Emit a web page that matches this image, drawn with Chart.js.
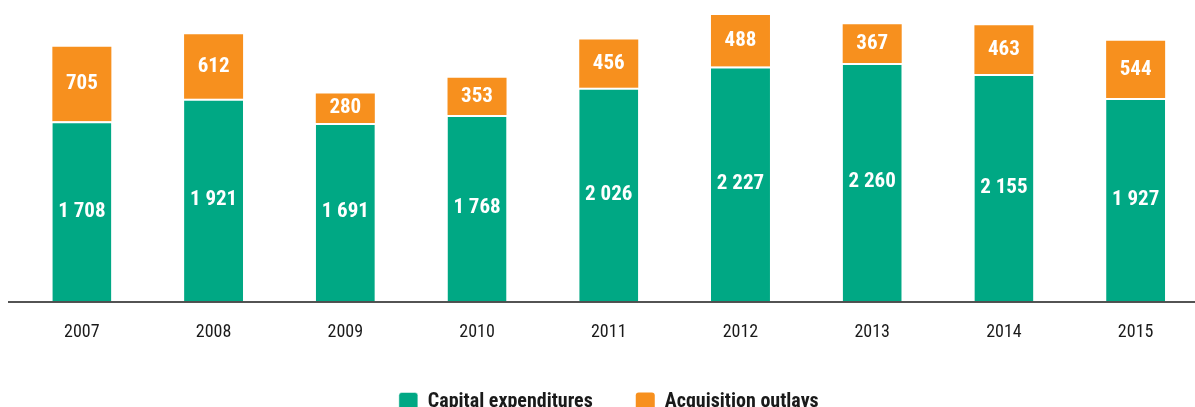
<!DOCTYPE html>
<html lang="en">
	<head>
		<meta charset="UTF-8" />
		<script src="https://cdn.jsdelivr.net/npm/chart.js@4"></script>
		<style>
			html, body { margin: 0; padding: 0; background: #fff; overflow: hidden; }
			#wrap { width: 1195px; height: 407px; overflow: hidden; position: relative; }
			#box { width: 1210px; height: 422px; }
		</style>
	</head>

	<body>
		<div id="wrap"><div id="box"><canvas id="myChart"></canvas></div></div>

		<script>
			const years = ['2007', '2008', '2009', '2010', '2011', '2012', '2013', '2014', '2015'];
			const capex = [1708, 1921, 1691, 1768, 2026, 2227, 2260, 2155, 1927];
			const acquisitions = [705, 612, 280, 353, 456, 488, 367, 463, 544];

			const FONT = '"Roboto Condensed", "Liberation Sans", sans-serif';
			const fmt = (v) => String(v).replace(/\B(?=(\d{3})+(?!\d))/g, ' ');

			// white value labels inside each segment, plus the long baseline
			const labelsPlugin = {
				id: 'segLabels',
				afterDatasetsDraw(chart) {
					const ctx = chart.ctx;
					const area = chart.chartArea;
					ctx.save();
					ctx.strokeStyle = '#1a1a1a';
					ctx.lineWidth = 1.5;
					ctx.beginPath();
					ctx.moveTo(8, area.bottom + 0.5);
					ctx.lineTo(chart.width, area.bottom + 0.5);
					ctx.stroke();

					ctx.fillStyle = '#fff';
					ctx.font = 'bold 21px ' + FONT;
					ctx.textAlign = 'center';
					ctx.textBaseline = 'middle';
					chart.data.datasets.forEach((ds, i) => {
						chart.getDatasetMeta(i).data.forEach((bar, j) => {
							const mid = (bar.y + bar.base) / 2;
							ctx.fillText(fmt(ds.data[j]), bar.x, mid);
						});
					});
					ctx.restore();
				},
			};

			const ctx = document.getElementById('myChart').getContext('2d');
			new Chart(ctx, {
				type: 'bar',
				data: {
					labels: years,
					datasets: [
						{
							label: 'Capital expenditures',
							data: capex,
							backgroundColor: '#00a884',
							borderColor: '#ffffff',
							borderWidth: { top: 2, left: 0, right: 0, bottom: 0 },
							borderSkipped: false,
						},
						{
							label: 'Acquisition outlays',
							data: acquisitions,
							backgroundColor: '#f7901e',
							borderWidth: 0,
						},
					],
				},
				options: {
					responsive: true,
					maintainAspectRatio: false,
					animation: false,
					events: [],
					layout: { padding: { top: 6, left: 16, right: 8.5, bottom: 0 } },
					datasets: { bar: { categoryPercentage: 1, barPercentage: 0.448 } },
					scales: {
						x: {
							stacked: true,
							border: { display: false },
							grid: { display: false, drawTicks: false },
							ticks: { color: '#1a1a1a', padding: 20, font: { family: FONT, size: 18 } },
							afterFit(scale) {
								scale.height -= 14; // pull the legend up closer to the year labels
							},
						},
						y: { stacked: true, display: false, min: 0, max: 2800 },
					},
					plugins: {
						tooltip: { enabled: false },
						legend: {
							position: 'bottom',
							labels: {
								boxWidth: 19,
								boxHeight: 19,
								useBorderRadius: true,
								borderRadius: 3,
								padding: 43,
								color: '#1a1a1a',
								font: { family: FONT, size: 20, weight: 'bold' },
							},
						},
					},
				},
				plugins: [labelsPlugin],
			});
		</script>
	</body>
</html>
